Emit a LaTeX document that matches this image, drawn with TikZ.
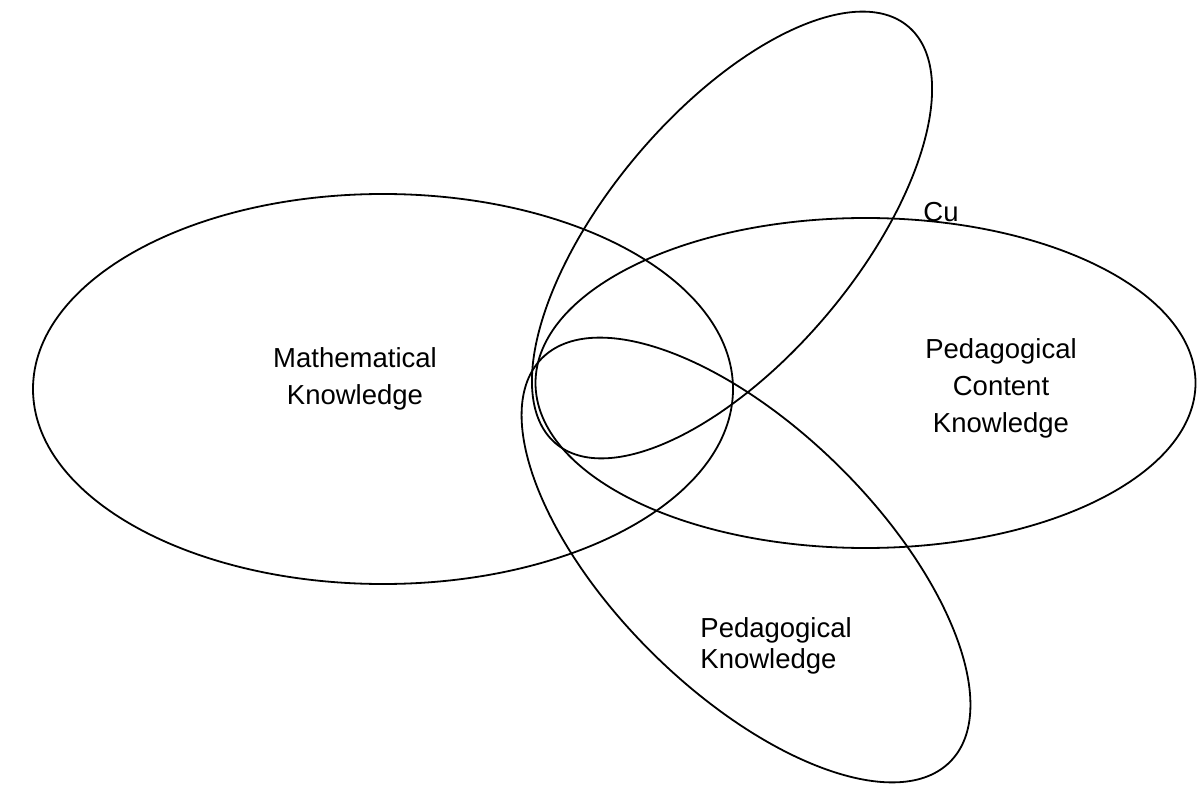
\documentclass[tikz,border=0pt]{standalone}
\usepackage{fontspec}
\setmainfont{Liberation Sans}
\begin{document}
\begin{tikzpicture}[x=0.5pt,y=-0.5pt,
        circlebound/.style={line width=0.9pt},
        lbl/.style={inner sep=0pt,align=center,font={\fontsize{13.75}{18.5}\selectfont}}]
        \useasboundingbox (0,0) rectangle (1202,785);

        \draw[circlebound] (383,389) ellipse [x radius=350, y radius=195];
        \draw[circlebound] (865.5,383) ellipse [x radius=330, y radius=165];
        \draw[circlebound, rotate around={49.8:(732,235)}] (732,235) ellipse [x radius=273, y radius=124];
        \draw[circlebound, rotate around={-44.6:(746,560)}] (746,560) ellipse [x radius=287, y radius=132];

        \node[lbl] (mathlbl) at (355,378.5) {Mathematical\\Knowledge};
        \node[lbl] (pcklbl) at (1001,388) {Pedagogical\\Content\\Knowledge};
        \node[lbl, align=left, anchor=west, font={\fontsize{13.75}{15.5}\selectfont}] (pklbl) at (700,645.5) {Pedagogical\\Knowledge};
        \node[lbl, anchor=base west] (culbl) at (923,222) {Cu};

    \end{tikzpicture}
\end{document}
